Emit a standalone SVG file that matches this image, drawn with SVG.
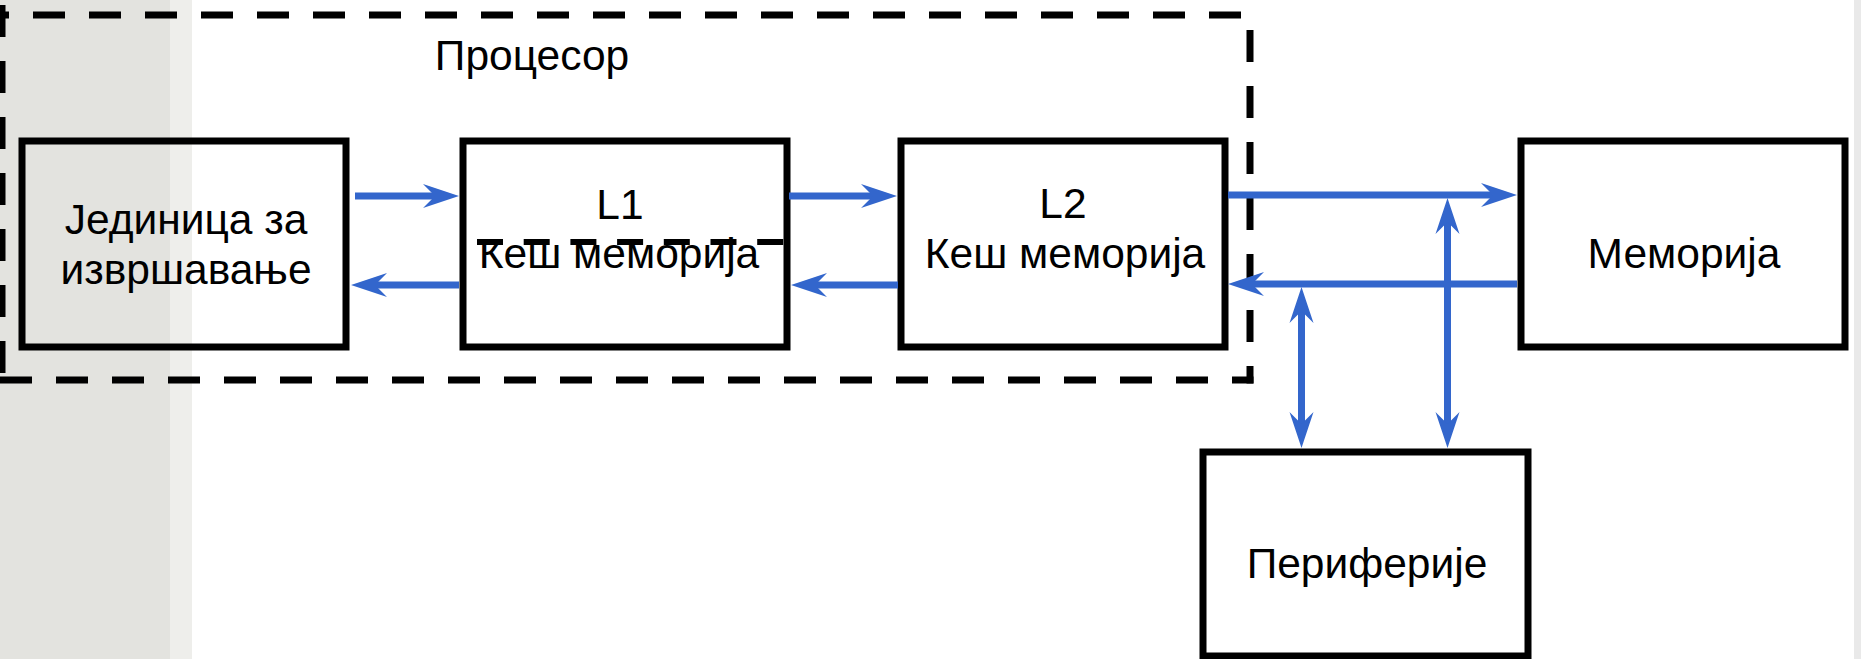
<svg xmlns="http://www.w3.org/2000/svg" width="1861" height="659" viewBox="0 0 1861 659">
<style>
.box{fill:none;stroke:#000;stroke-width:7}
.dash{fill:none;stroke:#000;stroke-width:7;stroke-dasharray:32 24}
.lbl{font-family:"Liberation Sans",Arial,sans-serif;font-size:42.5px;fill:#000;text-anchor:middle}
.con{fill:none;stroke:#3366cc;stroke-width:7}
</style>
<defs>
<marker id="ah" markerUnits="userSpaceOnUse" markerWidth="40" markerHeight="30" viewBox="-14 -14 40 28" refX="0" refY="0" orient="auto-start-reverse" overflow="visible">
<path d="M24,0 L-12,-12 L0,0 L-12,12 Z" fill="#3366cc"/>
</marker>
</defs>
<rect x="0" y="0" width="1861" height="659" fill="#fff"/>
<rect x="0" y="0" width="170" height="659" fill="#e3e3df"/>
<rect x="170" y="0" width="22" height="659" fill="#eeeeeb"/>
<rect x="1854" y="0" width="7" height="659" fill="#e9e9e9"/>

<g id="processor">
<line class="dash" x1="-23" y1="15" x2="1241" y2="15"/>
<line class="dash" x1="1250" y1="30" x2="1250" y2="383.5"/>
<line class="dash" x1="0" y1="380" x2="1253.5" y2="380"/>
<line class="dash" x1="2" y1="5" x2="2" y2="380"/>
<text class="lbl" x="532" y="70">Процесор</text>
</g>

<g id="exec">
<rect class="box" x="22" y="141" width="324" height="206"/>
<text class="lbl" x="186" y="234">Јединица за</text>
<text class="lbl" x="186" y="284">извршавање</text>
</g>

<g id="l1">
<rect class="box" x="463" y="141" width="324" height="206"/>
<text class="lbl" x="620" y="219">L1</text>
<text class="lbl" x="619" y="268">Кеш меморија</text>
<line x1="477" y1="242" x2="787" y2="242" stroke="#000" stroke-width="6" stroke-dasharray="26 20.7"/>
</g>

<g id="l2">
<rect class="box" x="901" y="141" width="324" height="206"/>
<text class="lbl" x="1063" y="218">L2</text>
<text class="lbl" x="1065" y="268">Кеш меморија</text>
</g>

<g id="memory">
<rect class="box" x="1521" y="141" width="324" height="206"/>
<text class="lbl" x="1684" y="268">Меморија</text>
</g>

<g id="periph">
<rect class="box" x="1203" y="452" width="325" height="204"/>
<text class="lbl" x="1367" y="578">Периферије</text>
</g>

<g id="connectors">
<line class="con" x1="355" y1="196" x2="435" y2="196" marker-end="url(#ah)"/>
<line class="con" x1="459" y1="285" x2="375" y2="285" marker-end="url(#ah)"/>
<line class="con" x1="789" y1="196" x2="873" y2="196" marker-end="url(#ah)"/>
<line class="con" x1="898" y1="285" x2="815" y2="285" marker-end="url(#ah)"/>
<line class="con" x1="1228" y1="195" x2="1493" y2="195" marker-end="url(#ah)"/>
<line class="con" x1="1517" y1="284" x2="1252" y2="284" marker-end="url(#ah)"/>
<line class="con" x1="1447.5" y1="222" x2="1447.5" y2="424" marker-start="url(#ah)" marker-end="url(#ah)"/>
<line class="con" x1="1301.5" y1="311" x2="1301.5" y2="424" marker-start="url(#ah)" marker-end="url(#ah)"/>
</g>
</svg>
